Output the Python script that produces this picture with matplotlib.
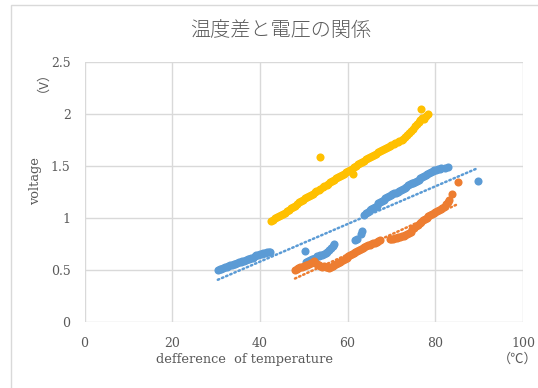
import matplotlib
matplotlib.use("Agg")
import matplotlib.pyplot as plt
import numpy as np
from matplotlib.patches import Rectangle

# ---------------- data ----------------
yellow_x = [42.5, 43.0, 43.4, 43.9, 44.3, 44.8, 45.3, 45.7, 46.2, 46.6, 47.1, 47.5, 48.0, 48.4,
            48.9, 49.3, 49.8, 50.2, 50.7, 51.1, 51.6, 52.0, 52.5, 52.9, 53.4, 53.8, 54.3, 54.7,
            55.2, 55.6, 56.1, 56.5, 57.0, 57.4, 57.9, 58.3, 58.8, 59.2, 59.7, 60.1, 60.6, 61.0,
            61.2, 61.5, 61.9, 62.4, 62.8, 63.3, 63.7, 64.2, 64.6, 65.1, 65.5, 66.0, 66.4, 66.9,
            67.3, 67.8, 68.2, 68.7, 69.1, 69.6, 70.0, 70.5, 70.9, 71.4, 71.8, 72.3, 72.7, 73.2,
            73.6, 74.1, 74.5, 75.0, 75.4, 75.8, 76.2, 76.6, 77.0, 77.4, 77.8, 78.3, 76.7, 53.7]
yellow_y = [0.97, 0.98, 1.00, 1.01, 1.02, 1.03, 1.04, 1.05, 1.07, 1.08, 1.10, 1.11, 1.12, 1.13,
            1.15, 1.16, 1.17, 1.19, 1.20, 1.21, 1.22, 1.23, 1.25, 1.26, 1.27, 1.28, 1.30, 1.31,
            1.32, 1.33, 1.35, 1.36, 1.37, 1.38, 1.39, 1.40, 1.41, 1.42, 1.44, 1.45, 1.46, 1.47,
            1.425, 1.49, 1.50, 1.52, 1.53, 1.54, 1.55, 1.57, 1.58, 1.59, 1.60, 1.61, 1.62, 1.63,
            1.64, 1.65, 1.66, 1.67, 1.68, 1.69, 1.70, 1.71, 1.72, 1.73, 1.74, 1.75, 1.76, 1.78,
            1.80, 1.82, 1.84, 1.86, 1.88, 1.90, 1.92, 1.94, 1.96, 1.95, 1.98, 2.00, 2.05, 1.59]

blue_x = [30.4, 30.8, 31.2, 31.6, 32.0, 32.4, 32.8, 33.2, 33.6, 34.0, 34.4, 34.8, 35.2, 35.6,
          36.0, 36.4, 36.8, 37.2, 37.6, 38.0, 38.4, 38.8, 39.2, 39.6, 40.0, 40.4, 40.8, 41.2,
          41.6, 42.0, 42.3,
          50.3,
          50.6, 51.0, 51.4, 51.8, 52.2, 52.6, 53.0, 53.4, 53.8, 54.2, 54.6, 55.0, 55.4, 55.8,
          56.2, 56.6, 57.0,
          61.7, 62.2, 63.0, 63.2,
          63.8, 64.2, 64.6, 65.0, 65.4, 65.8, 66.2, 66.6, 67.0, 67.4, 67.8, 68.2, 68.6, 69.0,
          69.4, 69.8, 70.2, 70.6, 71.0, 71.4, 71.8, 72.2, 72.6, 73.0, 73.4, 73.8, 74.2, 74.6,
          75.0, 75.4, 75.8, 76.2, 76.6, 77.0, 77.4, 77.8, 78.2, 78.6, 79.0, 79.4, 79.8, 80.2,
          80.6, 81.0, 81.4, 82.2, 83.0,
          89.7]
blue_y = [0.50, 0.51, 0.51, 0.52, 0.53, 0.53, 0.54, 0.55, 0.55, 0.56, 0.56, 0.57, 0.58, 0.58,
          0.59, 0.59, 0.60, 0.61, 0.61, 0.62, 0.62, 0.63, 0.64, 0.64, 0.65, 0.65, 0.66, 0.66,
          0.67, 0.67, 0.67,
          0.68,
          0.58, 0.59, 0.60, 0.61, 0.61, 0.62, 0.63, 0.63, 0.64, 0.64, 0.65, 0.66, 0.67, 0.69,
          0.71, 0.73, 0.75,
          0.785, 0.80, 0.85, 0.872,
          1.03, 1.05, 1.06, 1.08, 1.09, 1.10, 1.11, 1.12, 1.14, 1.15, 1.16, 1.17, 1.19, 1.20,
          1.21, 1.22, 1.23, 1.24, 1.24, 1.25, 1.26, 1.27, 1.28, 1.29, 1.30, 1.32, 1.33, 1.34,
          1.34, 1.35, 1.36, 1.37, 1.38, 1.39, 1.40, 1.41, 1.42, 1.43, 1.44, 1.45, 1.46, 1.46,
          1.47, 1.47, 1.48, 1.48, 1.49,
          1.354]

orange_x = [48.0, 48.4, 48.8, 49.2, 49.6, 50.0, 50.4, 50.8, 51.2, 51.6, 52.0, 52.3, 52.6, 53.0,
            53.4, 53.8, 54.2, 54.6, 55.0, 55.4, 55.8, 56.2, 56.6, 57.0, 57.4, 57.8, 58.2, 58.6,
            59.0, 59.4, 59.8, 60.2, 60.6, 61.0, 61.4, 61.8, 62.2, 62.6, 63.0, 63.4, 63.8, 64.2,
            64.6, 65.0, 65.4, 65.8, 66.2, 66.6, 67.0, 67.4,
            69.6, 70.0, 70.4, 70.8, 71.2, 71.6, 72.0, 72.4, 72.8, 73.2, 73.6, 74.0, 74.4, 74.8,
            75.2, 75.6, 76.0, 76.4, 76.8, 77.2, 77.6, 78.0, 78.4, 78.8, 79.2, 79.6, 80.0, 80.4,
            80.8, 81.2, 81.6, 82.0, 82.4, 82.8, 83.1, 83.9, 85.2]
orange_y = [0.50, 0.51, 0.52, 0.53, 0.53, 0.54, 0.55, 0.55, 0.56, 0.57, 0.58, 0.59, 0.57, 0.56,
            0.55, 0.54, 0.53, 0.54, 0.53, 0.53, 0.52, 0.53, 0.54, 0.55, 0.56, 0.57, 0.58, 0.59,
            0.60, 0.61, 0.62, 0.63, 0.64, 0.65, 0.66, 0.67, 0.68, 0.69, 0.70, 0.71, 0.72, 0.73,
            0.74, 0.74, 0.75, 0.76, 0.76, 0.77, 0.78, 0.79,
            0.80, 0.80, 0.80, 0.81, 0.81, 0.82, 0.82, 0.83, 0.83, 0.84, 0.85, 0.86, 0.87, 0.89,
            0.90, 0.92, 0.93, 0.95, 0.96, 0.98, 0.99, 1.00, 1.02, 1.03, 1.04, 1.05, 1.06, 1.07,
            1.08, 1.09, 1.10, 1.11, 1.13, 1.15, 1.17, 1.23, 1.35]

# linear trendline end points
blue_trend_x = [30.4, 89.7]
blue_trend_y = [0.406, 1.48]
orange_trend_x = [48.0, 85.2]
orange_trend_y = [0.418, 1.135]

x_ticks = [0, 20, 40, 60, 80, 100]
y_ticks = [0, 0.5, 1, 1.5, 2, 2.5]
y_tick_labels = ["0", "0.5", "1", "1.5", "2", "2.5"]

title = "温度差と電圧の関係"
x_label = "defference  of temperature"
y_label = "voltage"
x_unit = "（℃）"
y_unit = "（V）"

# ---------------- styling ----------------
C_BLUE = "#5B9BD5"
C_ORANGE = "#ED7D31"
C_YELLOW = "#FFC000"
C_GRID = "#D9D9D9"
C_TEXT = "#595959"
SERIF = ["DejaVu Serif", "Noto Sans CJK JP"]
plt.rcParams["font.family"] = SERIF

W, H = 538, 388
fig = plt.figure(figsize=(W / 100, H / 100), dpi=100)
fig.patch.set_facecolor("white")

# chart area border
fig.patches.append(Rectangle((11 / W, -0.1), 1.2, (1 - 5 / H) + 0.1, transform=fig.transFigure,
                             fill=False, edgecolor=C_GRID, linewidth=1.0))

L, R, T, B = 84.5, 523, 62, 322
ax = fig.add_axes([L / W, 1 - B / H, (R - L) / W, (B - T) / H])
ax.set_xlim(0, 100)
ax.set_ylim(0, 2.5)
for s in ax.spines.values():
    s.set_visible(False)
ax.set_xticks(x_ticks)
ax.set_yticks(y_ticks)
ax.set_yticklabels(y_tick_labels)
ax.grid(True, color=C_GRID, linewidth=1.0)
ax.set_axisbelow(True)
ax.tick_params(length=0, colors=C_TEXT, labelsize=9)
ax.tick_params(axis="x", pad=11)
ax.tick_params(axis="y", pad=10)

ms = 34
ax.scatter(blue_x, blue_y, s=ms, color=C_BLUE, linewidths=0, zorder=3, clip_on=False)
ax.scatter(orange_x, orange_y, s=ms, color=C_ORANGE, linewidths=0, zorder=3, clip_on=False)
ax.scatter(yellow_x, yellow_y, s=ms, color=C_YELLOW, linewidths=0, zorder=3, clip_on=False)

for xs, ys, c in [(blue_trend_x, blue_trend_y, C_BLUE), (orange_trend_x, orange_trend_y, C_ORANGE)]:
    ax.plot(xs, ys, color=c, linewidth=1.8, linestyle=(0, (0.6, 1.2)),
            dash_capstyle="round", zorder=4)

fig.text(281 / W, 1 - 30 / H, title, ha="center", va="center", fontsize=14.5,
         color=C_TEXT, family=["Noto Sans CJK JP", "DejaVu Sans"], weight="light")
fig.text(245 / W, 1 - 359 / H, x_label, ha="center", va="center", fontsize=9.3,
         color=C_TEXT, family=SERIF)
fig.text(518 / W, 1 - 359 / H, x_unit, ha="center", va="center", fontsize=9.5,
         color=C_TEXT, family=["Noto Sans CJK JP", "DejaVu Serif"])
fig.text(36 / W, 1 - 181 / H, y_label, ha="center", va="center", fontsize=9.3,
         color=C_TEXT, family=SERIF, rotation=90)
fig.text(36 / W, 1 - 75 / H, y_unit, ha="center", va="center", fontsize=9.5,
         color=C_TEXT, family=["Noto Sans CJK JP", "DejaVu Serif"], rotation=90)

fig.savefig("out.png", dpi=100)
